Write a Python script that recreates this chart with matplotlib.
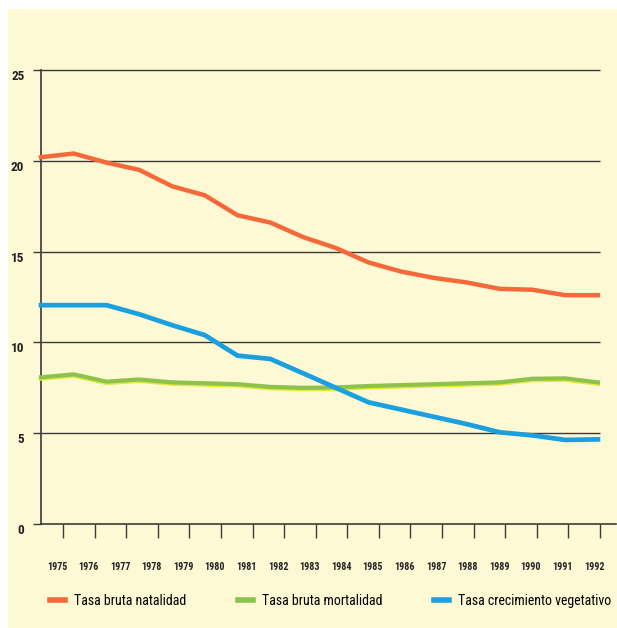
import numpy as np
import matplotlib
matplotlib.use("Agg")
from matplotlib import pyplot as plt
from matplotlib import patheffects
from matplotlib import transforms

years = list(range(1975, 1993))
natalidad = [20.2, 20.4, 19.9, 19.5, 18.6, 18.1, 17.0, 16.6, 15.8, 15.2,
             14.4, 13.9, 13.55, 13.3, 12.95, 12.9, 12.6, 12.6]
mortalidad = [8.08, 8.24, 7.84, 7.96, 7.8, 7.75, 7.7, 7.55, 7.5, 7.52,
              7.6, 7.65, 7.7, 7.75, 7.8, 8.0, 8.02, 7.8]
crecimiento = [12.05, 12.05, 12.05, 11.55, 10.95, 10.4, 9.27, 9.09, 8.3, 7.5,
               6.7, 6.3, 5.9, 5.5, 5.05, 4.88, 4.63, 4.66]
series_names = ["Tasa bruta natalidad", "Tasa bruta mortalidad",
                "Tasa crecimiento vegetativo"]
y_ticks = [0, 5, 10, 15, 20, 25]

bg = "#fdf9d5"
c_nat = "#f4683a"
c_mor = "#8dc34a"
c_cre = "#1a9fdf"
font = ["Roboto Condensed", "DejaVu Sans Condensed", "DejaVu Sans"]

fig = plt.figure(figsize=(6.17, 6.28), dpi=100, facecolor=bg)
ax = fig.add_axes([41 / 617, 104 / 628, 575 / 617, 454 / 628])
ax.set_facecolor(bg)

x_right = 1975 + 575 / 32.76
ax.set_xlim(1975, x_right)
ax.set_ylim(0, 25)

# gridlines stop a bit before the bottom axis does
grid_end = 1975 + 559 / 32.76
ax.hlines(y_ticks[1:], 1975, grid_end, color="#3a3a3a", lw=1.0, clip_on=False, zorder=1)

lines = []
lines += ax.plot(years, natalidad, color=c_nat, lw=3.2, solid_joinstyle="miter",
                 clip_on=False, zorder=3, label=series_names[0])
lines += ax.plot(years, mortalidad, color=c_mor, lw=3.0, clip_on=False, zorder=3,
                 label=series_names[1],
                 path_effects=[patheffects.SimpleLineShadow(offset=(0, -1.0),
                                                            shadow_color="#e6e83c", alpha=1),
                               patheffects.Normal()])
lines += ax.plot(years, crecimiento, color=c_cre, lw=3.4, solid_joinstyle="miter",
                 clip_on=False, zorder=4, label=series_names[2])

for s in ["top", "right"]:
    ax.spines[s].set_visible(False)
ax.spines["left"].set_color("#3a3a3a")
ax.spines["bottom"].set_color("#3a3a3a")
ax.spines["left"].set_linewidth(1.2)
ax.spines["bottom"].set_linewidth(1.2)

# y axis
ax.set_yticks(y_ticks)
ax.set_yticklabels([str(v) for v in y_ticks], fontfamily=font, fontsize=9.5,
                   fontweight="bold", color="#222222")
ax.tick_params(axis="y", length=6, width=1, color="#3a3a3a", pad=6)
shift = transforms.ScaledTranslation(0, -5 / 100, fig.dpi_scale_trans)
for lab in ax.get_yticklabels():
    lab.set_transform(lab.get_transform() + shift)

# x axis: tick marks and labels sit at slightly different places
tick_pos = np.linspace(1975 + 22 / 32.76, 1975 + 559 / 32.76, len(years))
label_pos = tick_pos - 6 / 32.76
ax.set_xticks(tick_pos)
ax.set_xticklabels([])
ax.tick_params(axis="x", which="major", length=10, width=1, color="#3a3a3a")
ax.set_xticks(label_pos, minor=True)
ax.set_xticklabels([str(y) for y in years], minor=True, fontfamily=font,
                   fontsize=7.2, fontweight="bold", color="#222222")
ax.tick_params(axis="x", which="minor", length=0, pad=27)

# one legend entry per series, placed along the bottom
for line, x0 in zip(lines, [50, 238, 434]):
    leg = fig.legend([line], [line.get_label()], loc="center left",
                     bbox_to_anchor=(x0 / 617, 1 - 601 / 628), frameon=False,
                     borderpad=0, borderaxespad=0, handlelength=1.1, handletextpad=0.6,
                     prop={"family": font, "size": 10})
    for h in leg.legend_handles:
        h.set_linewidth(4)
        h.set_path_effects([])

# white paper margin at the top and left
fig.patches.append(plt.Rectangle((0, 1 - 8 / 628), 1, 8 / 628, transform=fig.transFigure,
                                 color="white", zorder=-1))
fig.patches.append(plt.Rectangle((0, 0), 7 / 617, 1, transform=fig.transFigure,
                                 color="white", zorder=-1))

fig.savefig("out.png", dpi=100, facecolor=bg)
